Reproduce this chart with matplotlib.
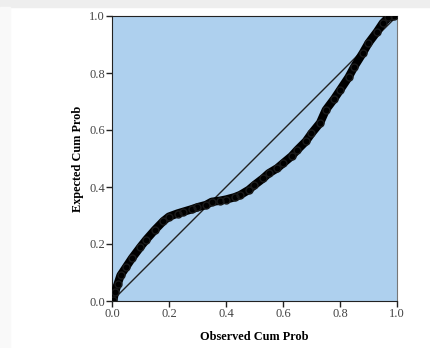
import matplotlib
matplotlib.use("Agg")
import matplotlib.pyplot as plt
from matplotlib.patches import Rectangle

# points (observed, expected)
observed = [0.005, 0.01, 0.02, 0.03, 0.05, 0.07, 0.10, 0.12, 0.15, 0.18, 0.20,
            0.23, 0.25, 0.28, 0.30, 0.33, 0.35, 0.38, 0.40, 0.43, 0.45, 0.48,
            0.50, 0.53, 0.55, 0.58, 0.60, 0.63, 0.65, 0.68, 0.70, 0.73, 0.75,
            0.78, 0.80, 0.83, 0.85, 0.88, 0.90, 0.93, 0.95, 0.97, 0.99]
expected = [0.005, 0.03, 0.06, 0.09, 0.12, 0.15, 0.19, 0.215, 0.249, 0.28, 0.296,
            0.307, 0.313, 0.322, 0.329, 0.337, 0.348, 0.352, 0.356, 0.364, 0.372, 0.390,
            0.407, 0.430, 0.448, 0.466, 0.483, 0.508, 0.530, 0.560, 0.588, 0.625, 0.670,
            0.710, 0.740, 0.785, 0.822, 0.870, 0.905, 0.945, 0.975, 0.995, 1.0]
ref_line = [0.01, 1.0]

fig = plt.figure(figsize=(4.31, 3.48), dpi=100)
fig.patches.append(Rectangle((0, 1 - 7 / 348), 1, 7 / 348, transform=fig.transFigure,
                             color="#eeeeee", zorder=0))
fig.patches.append(Rectangle((0, 0), 10 / 431, 1 - 7 / 348, transform=fig.transFigure,
                             color="#f9f9f9", zorder=0))

ax = fig.add_axes([112 / 431, 1 - 301 / 348, 285 / 431, 285 / 348])
ax.set_facecolor("#aed0ee")
ax.plot(ref_line, ref_line, color="#222222", lw=1.0, zorder=2)
ax.plot(observed, expected, color="black", lw=6, solid_capstyle="round", zorder=3)
ax.plot(observed, expected, ls="none", marker="o", ms=5, mfc="none", mec="#1a1a1a",
        mew=1.0, zorder=4)

ax.set_xlim(0, 1)
ax.set_ylim(0, 1)
ticks = [0.0, 0.2, 0.4, 0.6, 0.8, 1.0]
ax.set_xticks(ticks)
ax.set_yticks(ticks)
ax.set_xticklabels(["%.1f" % t for t in ticks])
ax.set_yticklabels(["%.1f" % t for t in ticks])
ax.tick_params(direction="out", length=4, width=1, color="#222222",
               labelsize=9, labelcolor="#444444", pad=1)
for lab in ax.get_xticklabels() + ax.get_yticklabels():
    lab.set_family("Liberation Serif")
for s in ["left", "bottom", "top"]:
    ax.spines[s].set_color("#222222")
ax.spines["right"].set_color("#777777")

ax.set_xlabel("Observed Cum Prob", family="Liberation Serif", fontweight="bold",
              fontsize=8.8, labelpad=8)
ax.set_ylabel("Expected Cum Prob", family="Liberation Serif", fontweight="bold",
              fontsize=8.8, labelpad=4)

fig.savefig("out.png", dpi=100)
